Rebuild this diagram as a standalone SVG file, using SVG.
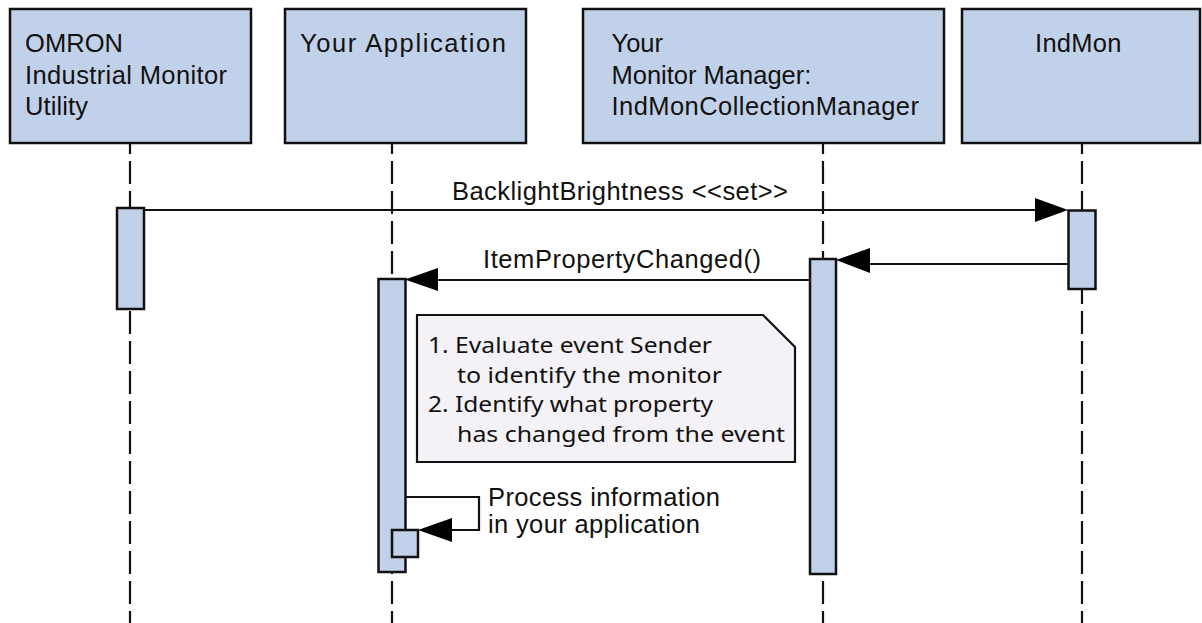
<svg xmlns="http://www.w3.org/2000/svg" width="1202" height="623" viewBox="0 0 1202 623">
<style>
.box{fill:#c2d1ea;stroke:#111;stroke-width:2.5}
.act{fill:#c2d1ea;stroke:#111;stroke-width:2.5}
.life{stroke:#111;stroke-width:2.2;stroke-dasharray:23 7;stroke-dashoffset:12;fill:none}
.msg{stroke:#111;stroke-width:2.2;fill:none}
.head{fill:#000}
.t{font-family:"Liberation Sans",Arial,sans-serif;font-size:25.5px;fill:#111}
.n{font-family:"Noto Sans","Open Sans",sans-serif;font-size:22.5px;fill:#111}
.note{fill:#f4f2f6;stroke:#111;stroke-width:2.2}
</style>
<rect width="1202" height="623" fill="#fff"/>
<g id="lifelines">
<line class="life" x1="130" y1="143" x2="130" y2="623"/>
<line class="life" x1="392" y1="143" x2="392" y2="623"/>
<line class="life" x1="823" y1="143" x2="823" y2="623"/>
<line class="life" x1="1082" y1="143" x2="1082" y2="623"/>
</g>
<g id="node-omron">
<rect class="box" x="10" y="9" width="241" height="134"/>
<text class="t" x="25" y="52" textLength="98">OMRON</text>
<text class="t" x="25" y="83.5" textLength="202">Industrial Monitor</text>
<text class="t" x="25" y="115" textLength="63">Utility</text>
</g>
<g id="node-app">
<rect class="box" x="285" y="9" width="241" height="134"/>
<text class="t" x="300" y="52" textLength="206">Your Application</text>
</g>
<g id="node-manager">
<rect class="box" x="583" y="9" width="361" height="134"/>
<text class="t" x="611.5" y="52">Your</text>
<text class="t" x="611.5" y="83.5">Monitor Manager:</text>
<text class="t" x="611.5" y="115" textLength="307.5">IndMonCollectionManager</text>
</g>
<g id="node-indmon">
<rect class="box" x="962" y="9" width="238" height="134"/>
<text class="t" x="1035" y="52" textLength="86.5">IndMon</text>
</g>
<g id="activations">
<rect class="act" x="117" y="208" width="27" height="101"/>
<rect class="act" x="378.5" y="279" width="27" height="293"/>
<rect class="act" x="810" y="259" width="26" height="315"/>
<rect class="act" x="1068.5" y="210.5" width="27" height="78.5"/>
<rect class="act" x="392" y="530" width="26" height="27"/>
</g>
<g id="connectors">
<line class="msg" x1="144" y1="210" x2="1036" y2="210"/>
<polygon class="head" points="1068,210 1035,198 1035,222"/>
<text class="t" x="452" y="200" textLength="336">BacklightBrightness &lt;&lt;set&gt;&gt;</text>
<line class="msg" x1="1068" y1="264" x2="869" y2="264"/>
<polygon class="head" points="836,260 870,248 870,273"/>
<line class="msg" x1="810" y1="280" x2="437" y2="280"/>
<polygon class="head" points="405,279.5 438,268 438,291"/>
<text class="t" x="483" y="268" textLength="278">ItemPropertyChanged()</text>
<polyline class="msg" points="405,497 479,497 479,530 451,530"/>
<polygon class="head" points="418,530 452,518 452,542"/>
<text class="t" x="488" y="506" textLength="232">Process information</text>
<text class="t" x="488" y="533" textLength="212">in your application</text>
</g>
<g id="note">
<polygon class="note" points="417,315 763,315 795,347 795,462 417,462"/>
<text class="n" x="428" y="353" textLength="284" lengthAdjust="spacingAndGlyphs">1. Evaluate event Sender</text>
<text class="n" x="457" y="382.5" textLength="265" lengthAdjust="spacingAndGlyphs">to identify the monitor</text>
<text class="n" x="428" y="412" textLength="285" lengthAdjust="spacingAndGlyphs">2. Identify what property</text>
<text class="n" x="457" y="441.5" textLength="328" lengthAdjust="spacingAndGlyphs">has changed from the event</text>
</g>
</svg>
